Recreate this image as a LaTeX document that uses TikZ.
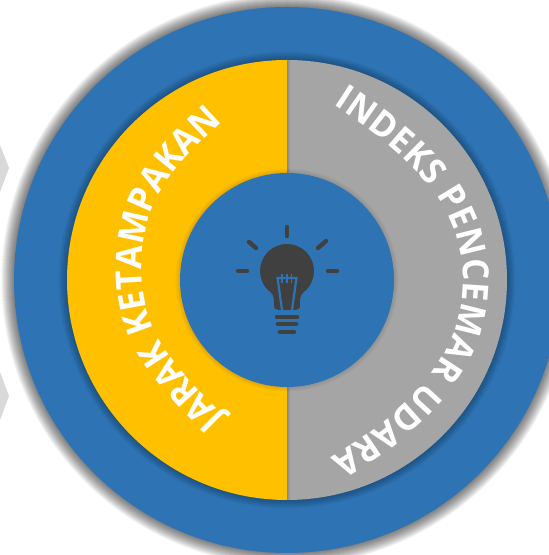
\documentclass[tikz,border=0pt]{standalone}
\usepackage{fontspec}
\setmainfont{Open Sans}
\newfontfamily\arcfont[FakeStretch=0.95]{Open Sans}
\usetikzlibrary{decorations.text}
\definecolor{bluec}{HTML}{2E74B5}
\definecolor{goldc}{HTML}{FFC000}
\definecolor{grayc}{HTML}{A5A5A5}
\definecolor{darkc}{HTML}{404040}
\definecolor{chev}{HTML}{D9D9D9}
\tikzset{
  ray/.style={draw=darkc,line width=4.4bp,line cap=round},
  basebar/.style={draw=darkc,line width=4.6bp,line cap=round},
  fil/.style={draw=bluec,line width=2.2bp},
  fila/.style={draw=bluec,line width=1.4bp},
  curved/.style={decoration={text along path,text align={fit to path},
    text={|\arcfont\fontsize{36}{36}\selectfont\bfseries\color{white}|#1}},decorate}
}
\begin{document}
\begin{tikzpicture}[x=1bp,y=1bp]
\useasboundingbox (0,0) rectangle (549,555);
\clip (0,0) rectangle (549,555);
\coordinate (c) at (287,275);
% chevrons
\fill[chev] (0,410) -- (9,387) -- (0,363) -- cycle;
\fill[chev] (0,183) -- (9,159) -- (0,135) -- cycle;
% outer shadow
\foreach \r in {273.5,274.5,...,285.5}{
  \fill[black,opacity=0.05] (c) circle (\r);
}
\fill[bluec] (c) circle (273);
% ring shadow
\foreach \r in {220.5,221.5,...,228.5}{
  \fill[black,opacity=0.03] (c) circle (\r);
}
\fill[goldc] (c) ++(0,220) arc (90:270:220) -- cycle;
\fill[grayc] (c) ++(0,-220) arc (-90:90:220) -- cycle;
% seam between halves
\foreach \w in {1,2,3}{
  \fill[black,opacity=0.06] (287,55) rectangle (287+\w,495);
}
% inner shadow
\foreach \r in {107.5,108.5,...,111.5}{
  \fill[black,opacity=0.025] (c) circle (\r);
}
\fill[bluec] (c) circle (107);
% bulb
\fill[darkc] (287,284) circle (27);
\fill[darkc] (270,264) .. controls (275,258) and (274,254) .. (274,250)
  .. controls (274,246) and (276,245) .. (279,245) -- (295,245)
  .. controls (298,245) and (300,246) .. (300,250)
  .. controls (300,254) and (299,258) .. (304,264) -- cycle;
\draw[fil] (282,245) -- (277.5,277) -- (296.5,277) -- (292,245);
\draw[fila] (282,272) -- (282,281) (287,272) -- (287,281) (291.5,272) -- (291.5,281);
\draw[basebar] (277,238) -- (297,238);
\draw[basebar] (278,231) -- (296,231);
\draw[basebar] (280,223) -- (294,223);
\draw[ray] (287,328) -- (287,319);
\draw[ray] (249,313) -- (256,307);
\draw[ray] (318,307) -- (326,314);
\draw[ray] (238,284) -- (247,284);
\draw[ray] (328,284) -- (337,284);
% curved labels
\path[curved={JARAK KETAMPAKAN}] (225,138) .. controls (169,194) and (142,225) .. (142,285)
  .. controls (142,345) and (163,380) .. (222.7,433.3);
\path[curved={INDEKS PENCEMAR UDARA}] (333,450) .. controls (417,396) and (463,345) .. (463,275)
  .. controls (463,205) and (418,149) .. (330,97);
\end{tikzpicture}
\end{document}
